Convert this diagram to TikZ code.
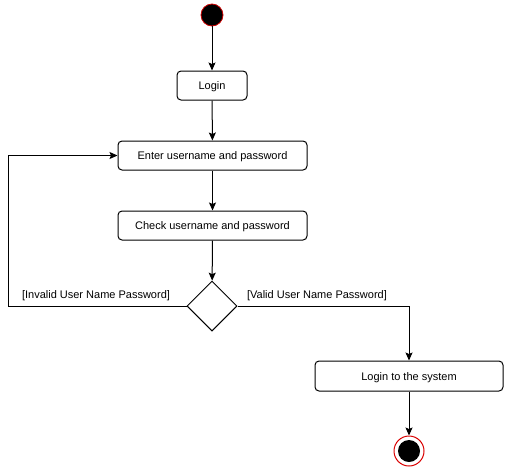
\documentclass[tikz,border=0pt]{standalone}
\usepackage{fontspec}
\setmainfont{Liberation Sans}
\usetikzlibrary{shapes.geometric,arrows.meta}
\begin{document}
\begin{tikzpicture}[x=1pt,y=-1pt,
  every node/.style={font=\fontsize{11}{13}\selectfont},
  act/.style={draw,rounded corners=4pt,line width=1pt,inner sep=0pt,minimum height=29pt,text height=8pt,text depth=0pt},
  arr/.style={draw,line width=1pt,-{Stealth[length=8pt,width=7pt,inset=1.5pt]}},
  lbl/.style={inner sep=0pt}]
\useasboundingbox (0,0) rectangle (505,467);
\node[circle,fill=black,draw=red!80!black,line width=0.8pt,minimum size=22pt,inner sep=0pt] (start) at (212,15) {};
\node[act,minimum width=70pt] (login) at (212,85.5) {Login};
\node[act,minimum width=189pt] (enter) at (212.5,155.5) {Enter username and password};
\node[act,minimum width=189pt] (check) at (212.5,225.5) {Check username and password};
\node[diamond,draw,line width=1pt,minimum width=50pt,minimum height=50pt,inner sep=0pt] (dec) at (212,306) {};
\node[act,minimum width=188pt,minimum height=30pt] (sys) at (409,376) {Login to the system};
\node[circle,draw=red!85!black,line width=1pt,minimum size=30pt,inner sep=0pt] (endo) at (409,451) {};
\node[circle,fill=black,minimum size=22pt,inner sep=0pt] (endi) at (409,451) {};
\coordinate (lc1) at (8,306);
\coordinate (lc2) at (8,155.5);
\coordinate (rc1) at (409,306);
\draw[arr] (start) -- (login);
\draw[arr] (login) -- (enter);
\draw[arr] (enter) -- (check);
\draw[arr] (check) -- (dec);
\draw[arr] (dec.west) -- (lc1) -- (lc2) -- (enter.west);
\draw[arr] (dec.east) -- (rc1) -- (sys.north);
\draw[arr] (sys) -- (endo);
\node[lbl] (linv) at (96,296) {[Invalid User Name Password]};
\node[lbl] (lval) at (317,296) {[Valid User Name Password]};
\end{tikzpicture}
\end{document}
